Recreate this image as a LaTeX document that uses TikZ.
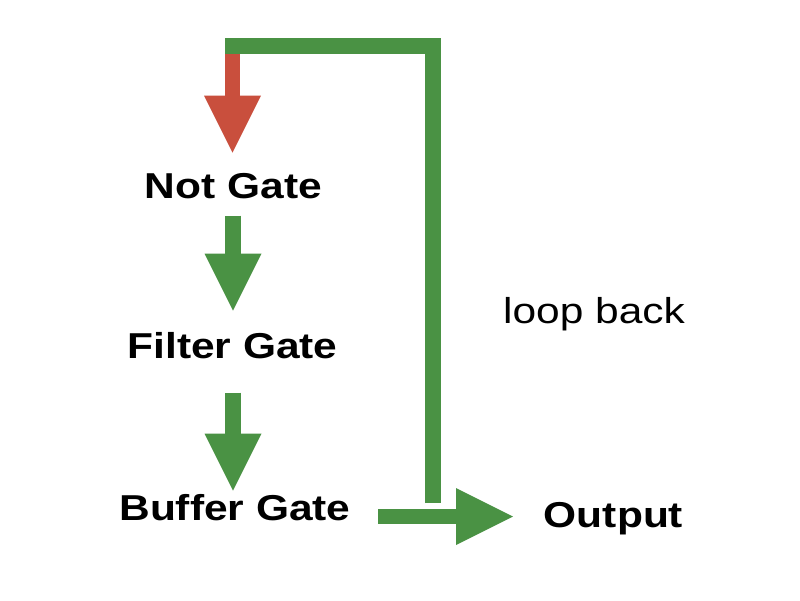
\documentclass[tikz,border=0pt]{standalone}
\usepackage{fontspec}
\setmainfont{Liberation Sans}[FakeStretch=1.18]
\usetikzlibrary{arrows.meta,calc}
\definecolor{gr}{HTML}{4A9244}
\definecolor{rd}{HTML}{C94F3D}
\tikzset{
  lbl/.style={font=\fontsize{36}{40}\selectfont\bfseries, inner sep=0pt, anchor=base},
  plain/.style={font=\fontsize{36}{40}\selectfont, inner sep=0pt, anchor=base},
  blk/.style={line width=16pt, -{Triangle[width=57pt,length=57pt,line width=0pt]}},
}
\begin{document}
\begin{tikzpicture}[x=1pt,y=-1pt]
\useasboundingbox[fill=white] (0,0) rectangle (800,600);
\node[lbl] (not) at (233.5,198) {Not Gate};
\node[lbl] (filter) at (232.5,358) {Filter Gate};
\node[lbl] (buffer) at (235,520) {Buffer Gate};
\node[lbl] (output) at (613.5,527) {Output};
\node[plain] (loop) at (594,323) {loop back};
\coordinate (axis) at (233,0);
\coordinate (loopstart) at (433,503);
\coordinate (looptop) at (433,45.5);
\coordinate (loopleft) at (225,45.5);
\coordinate (redstart) at (232.5,53.5);
\coordinate (outstart) at (378,516.5);
\coordinate (outend) at (513,516.5);
\draw[gr, line width=16pt] (loopstart) -- (looptop) -- (loopleft);
\draw[rd, blk, line width=15pt] (redstart) -- ($(not.north -| redstart)+(0,-20)$);
\draw[gr, blk] ($(not.south -| axis)+(0,17)$) -- ($(filter.north -| axis)+(0,-21)$);
\draw[gr, blk] ($(filter.south -| axis)+(0,34)$) -- ($(buffer.north -| axis)+(0,-3)$);
\draw[gr, blk, line width=15pt] (outstart) -- (outend);
\end{tikzpicture}
\end{document}
